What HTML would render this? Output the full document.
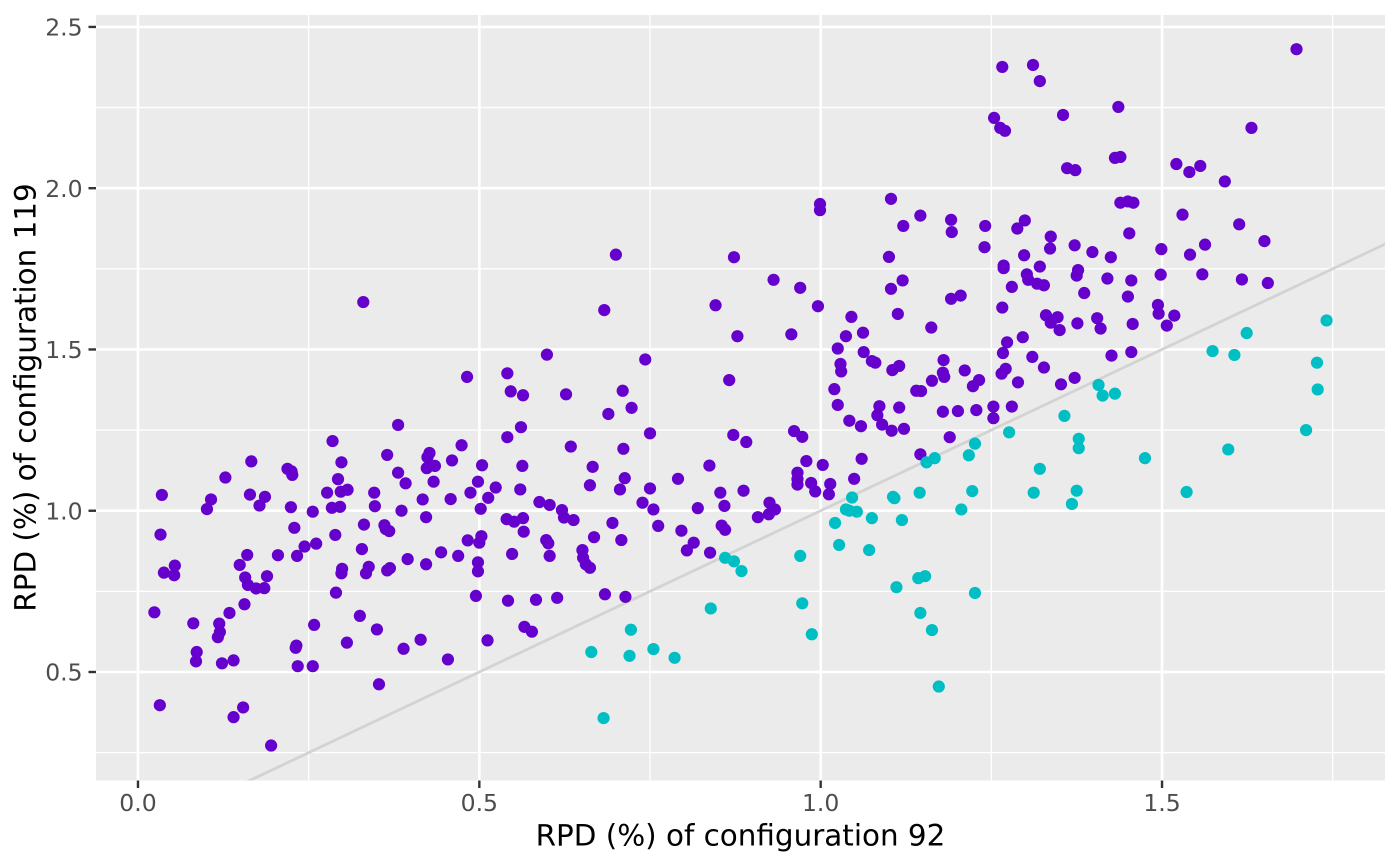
<!DOCTYPE html>
<html lang="en">
<head>
<meta charset="utf-8">
<title>RPD scatter plot</title>
<style>
html,body{margin:0;padding:0;background:#fff;width:1400px;height:866px;overflow:hidden}
svg{display:block}
text{font-family:"DejaVu Sans","Liberation Sans",sans-serif}
</style>
</head>
<body>
<svg id="chart" xmlns="http://www.w3.org/2000/svg" width="1400" height="866" viewBox="0 0 1400 866">
  <rect x="0" y="0" width="1400" height="866" fill="#ffffff"/>
  <defs><clipPath id="panel-clip"><rect x="96" y="15" width="1289" height="765.5"/></clipPath></defs>
  <rect x="96" y="15" width="1289" height="765.5" fill="#ebebeb"/>
  <g id="grid" clip-path="url(#panel-clip)"></g>
  <g id="reference" clip-path="url(#panel-clip)"></g>
  <g id="points" clip-path="url(#panel-clip)"></g>
  <g id="axes"></g>
  <text x="740.5" y="845.3" text-anchor="middle" font-size="29.4" fill="#000000">RPD (%) of configuration 92</text>
  <text transform="translate(35.5,397.5) rotate(-90)" text-anchor="middle" font-size="29.4" fill="#000000">RPD (%) of configuration 119</text>
</svg>
<script>
const xTicks = [0, 0.5, 1, 1.5];
const xTickLabels = ["0.0", "0.5", "1.0", "1.5"];
const yTicks = [0.5, 1, 1.5, 2, 2.5];
const yTickLabels = ["0.5", "1.0", "1.5", "2.0", "2.5"];
const xMinorTicks = [0.25, 0.75, 1.25, 1.75];
const yMinorTicks = [0.25, 0.75, 1.25, 1.75, 2.25];
const xDomain = [-0.0615, 1.8266];
const yDomain = [0.1636, 2.537];
const referenceLine = [0, 2];

const upperX = [
.330,.482,.381,.285,.474,.365,.427,.424,.435,.423,
.460,.504,.166,.219,.225,.226,.128,.298,.381,.392,
.433,.498,.293,.035,.107,.101,.164,.186,.178,.224,
.256,.277,.297,.307,.284,.296,.346,.347,.386,.417,
.422,.458,.487,.513,.502,.033,.229,.331,.289,.361,
.363,.368,.328,.261,.244,.233,.205,.160,.149,.054,
.038,.053,.157,.189,.161,.173,.185,.290,.156,.134,
.024,.081,.119,.120,.117,.258,.325,.350,.495,.483,
.503,.500,.469,.444,.422,.395,.369,.365,.338,.334,
.299,.298,.498,.498,.306,.232,.231,.086,.085,.123,
.140,.234,.256,.389,.414,.454,.512,.353,.032,.154,
.140,.195,.700,.873,.931,.970,.996,.846,.683,.878,
.957,.599,.743,.541,.546,.564,.627,.710,.723,.689,
.866,.561,.541,.750,.634,.711,.872,.891,.961,.973,
.563,.666,.837,.979,1.003,.966,.966,.966,.986,.992,
1.014,1.012,.713,.662,.706,.750,.791,.853,.887,.524,
.560,.588,.603,.621,.624,.638,.540,.551,.564,.565,
.695,.739,.755,.762,.820,.859,.796,.855,.860,.668,
.708,.598,.601,.603,.548,.814,.804,.838,.908,.925,
.933,.924,.651,.652,.656,.662,.684,.714,.542,.583,
.614,.566,.577,1.103,1.146,1.121,1.191,1.192,1.241,1.240,
1.299,1.288,1.337,1.336,1.372,.999,.999,1.100,1.298,1.268,
1.268,1.321,1.302,1.304,1.317,1.327,1.377,1.375,1.120,1.103,
1.280,1.191,1.205,1.113,1.266,1.162,1.045,1.062,1.037,1.025,
1.029,1.030,1.063,1.075,1.080,1.115,1.105,1.180,1.179,1.181,
1.211,1.232,1.223,1.273,1.267,1.296,1.310,1.327,1.271,1.265,
1.289,1.352,1.372,1.330,1.347,1.337,1.350,1.376,1.020,1.025,
1.042,1.059,1.086,1.083,1.090,1.104,1.122,1.115,1.163,1.140,
1.147,1.179,1.201,1.228,1.253,1.253,1.280,1.189,1.146,1.060,
1.049,1.592,1.439,1.450,1.458,1.530,1.613,1.650,1.452,1.398,
1.425,1.499,1.541,1.563,1.420,1.455,1.498,1.559,1.617,1.655,
1.386,1.450,1.494,1.495,1.518,1.507,1.405,1.410,1.457,1.426,
1.455,1.697,1.266,1.311,1.321,1.436,1.355,1.254,1.263,1.270,
1.631,1.431,1.439,1.361,1.373,1.521,1.556,1.540
];
const upperY = [
1.647,1.415,1.266,1.216,1.203,1.173,1.179,1.166,1.139,1.132,
1.156,1.141,1.153,1.130,1.122,1.111,1.103,1.150,1.118,1.085,
1.090,1.090,1.098,1.049,1.035,1.005,1.050,1.043,1.016,1.011,
.997,1.056,1.059,1.065,1.009,1.012,1.056,1.014,1.000,1.035,
.980,1.036,1.056,1.040,1.006,.926,.947,.957,.925,.955,
.943,.937,.881,.898,.889,.860,.862,.863,.832,.830,
.808,.800,.793,.797,.770,.759,.760,.746,.710,.683,
.685,.651,.650,.624,.608,.646,.674,.632,.736,.908,
.921,.901,.860,.871,.834,.850,.822,.815,.826,.806,
.820,.806,.840,.812,.591,.582,.575,.562,.533,.527,
.536,.518,.518,.572,.600,.539,.598,.462,.397,.390,
.360,.272,1.794,1.786,1.716,1.691,1.634,1.637,1.622,1.541,
1.547,1.484,1.469,1.426,1.370,1.358,1.361,1.372,1.319,1.300,
1.405,1.259,1.228,1.240,1.199,1.192,1.235,1.213,1.247,1.229,
1.139,1.136,1.140,1.154,1.142,1.118,1.098,1.081,1.086,1.060,
1.083,1.051,1.101,1.079,1.066,1.069,1.099,1.056,1.062,1.072,
1.066,1.027,1.018,1.002,.979,.971,.974,.966,.977,.935,
.962,1.025,1.004,.953,1.008,1.015,.938,.954,.941,.918,
.909,.909,.899,.860,.866,.901,.877,.870,.980,1.025,
1.004,.989,.878,.854,.834,.823,.741,.733,.721,.724,
.730,.640,.625,1.967,1.915,1.883,1.902,1.864,1.883,1.817,
1.900,1.875,1.850,1.813,1.823,1.951,1.932,1.787,1.792,1.760,
1.752,1.757,1.733,1.716,1.704,1.699,1.746,1.729,1.714,1.688,
1.694,1.657,1.667,1.610,1.630,1.568,1.601,1.552,1.541,1.503,
1.455,1.432,1.492,1.464,1.459,1.449,1.436,1.467,1.428,1.415,
1.435,1.405,1.386,1.522,1.489,1.538,1.477,1.444,1.440,1.425,
1.398,1.392,1.412,1.606,1.600,1.583,1.560,1.581,1.377,1.328,
1.279,1.262,1.324,1.296,1.267,1.248,1.254,1.320,1.403,1.372,
1.371,1.307,1.309,1.312,1.323,1.287,1.323,1.228,1.175,1.161,
1.099,2.021,1.955,1.959,1.955,1.918,1.888,1.836,1.860,1.802,
1.786,1.811,1.794,1.825,1.720,1.714,1.732,1.733,1.717,1.706,
1.675,1.664,1.638,1.611,1.605,1.574,1.597,1.565,1.579,1.481,
1.492,2.431,2.376,2.382,2.332,2.252,2.227,2.218,2.187,2.178,
2.187,2.094,2.097,2.062,2.056,2.075,2.069,2.050
];
const lowerX = [
.860,.873,.884,.970,.839,.973,.987,.722,.664,.720,
.755,.786,.682,1.357,1.276,1.226,1.217,1.167,1.155,1.378,
1.378,1.321,1.145,1.106,1.108,1.222,1.312,1.375,1.046,1.741,
1.624,1.574,1.606,1.727,1.728,1.407,1.413,1.431,1.711,1.597,
1.475,1.536,1.368,1.206,1.021,1.037,1.042,1.053,1.075,1.119,
1.027,1.071,1.111,1.143,1.153,1.146,1.163,1.173,1.226
];
const lowerY = [
.854,.843,.813,.860,.697,.713,.617,.631,.562,.550,
.571,.544,.357,1.294,1.243,1.208,1.172,1.163,1.150,1.223,
1.194,1.130,1.056,1.043,1.039,1.061,1.056,1.062,1.041,1.590,
1.551,1.495,1.483,1.459,1.376,1.390,1.357,1.363,1.250,1.190,
1.163,1.058,1.021,1.004,.962,1.004,1.000,.997,.977,.971,
.894,.878,.763,.791,.797,.683,.630,.455,.745
];

const SVG_NS = "http://www.w3.org/2000/svg";
const plotLeft = 96, plotRight = 1385, plotTop = 15, plotBottom = 780.5;
function scaleX(v) { return plotLeft + (v - xDomain[0]) / (xDomain[1] - xDomain[0]) * (plotRight - plotLeft); }
function scaleY(v) { return plotBottom - (v - yDomain[0]) / (yDomain[1] - yDomain[0]) * (plotBottom - plotTop); }
function make(tag, attrs, parent) {
  const el = document.createElementNS(SVG_NS, tag);
  for (const k in attrs) el.setAttribute(k, attrs[k]);
  parent.appendChild(el);
  return el;
}
const gridG = document.getElementById("grid");
const axesG = document.getElementById("axes");
const refG = document.getElementById("reference");
const pointsG = document.getElementById("points");

xMinorTicks.forEach(function (t) {
  const el = make("line", {x1: scaleX(t), x2: scaleX(t), y1: plotTop, y2: plotBottom, stroke: "#fff", "stroke-width": 1.3}, gridG);
  
  
});
yMinorTicks.forEach(function (t) {
  const el = make("line", {x1: plotLeft, x2: plotRight, y1: scaleY(t), y2: scaleY(t), stroke: "#fff", "stroke-width": 1.3}, gridG);
  
  
});
xTicks.forEach(function (t, i) {
  const px = scaleX(t);
  const g = make("line", {x1: px, x2: px, y1: plotTop, y2: plotBottom, stroke: "#fff", "stroke-width": 2.6}, gridG);
  
  
  const m = make("line", {x1: px, x2: px, y1: plotBottom, y2: plotBottom + 7.5, stroke: "#333333", "stroke-width": 2.4}, axesG);
  
  
  const l = make("text", {x: px, y: 811, "text-anchor": "middle", "font-size": 23.5, fill: "#4d4d4d"}, axesG);
  
  
  l.textContent = xTickLabels[i];
});
yTicks.forEach(function (t, i) {
  const py = scaleY(t);
  const g = make("line", {x1: plotLeft, x2: plotRight, y1: py, y2: py, stroke: "#fff", "stroke-width": 2.6}, gridG);
  
  
  const m = make("line", {x1: plotLeft - 7.5, x2: plotLeft, y1: py, y2: py, stroke: "#333333", "stroke-width": 2.4}, axesG);
  
  
  const l = make("text", {x: plotLeft - 13.4, y: py + 8.6, "text-anchor": "end", "font-size": 23.5, fill: "#4d4d4d"}, axesG);
  
  
  l.textContent = yTickLabels[i];
});
const refLine = make("line", {x1: scaleX(referenceLine[0]), y1: scaleY(referenceLine[0]), x2: scaleX(referenceLine[1]), y2: scaleY(referenceLine[1]), stroke: "#d3d3d3", "stroke-width": 2.8}, refG);



upperX.forEach(function (v, i) {
  const c = make("circle", {cx: scaleX(v), cy: scaleY(upperY[i]), r: 6.1, fill: "#6600cc"}, pointsG);
  
  
});
lowerX.forEach(function (v, i) {
  const c = make("circle", {cx: scaleX(v), cy: scaleY(lowerY[i]), r: 6.1, fill: "#00bfc4"}, pointsG);
  
  
});
</script>
</body>
</html>
